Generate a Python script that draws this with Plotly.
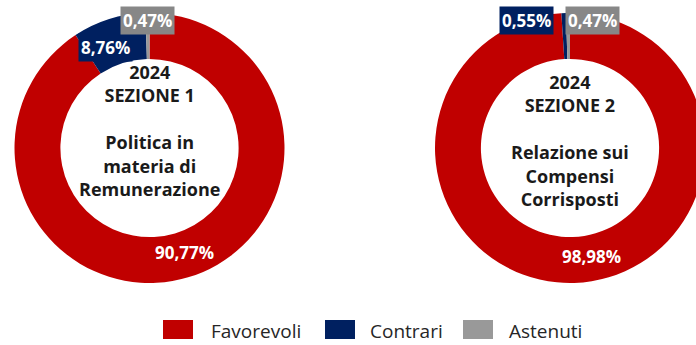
import plotly.graph_objects as go

# ---- data ----
categories = ["Favorevoli", "Contrari", "Astenuti"]
sez1_values = [90.77, 8.76, 0.47]
sez2_values = [98.98, 0.55, 0.47]
colors = ["#C00000", "#002060", "#999999"]
label_box_colors = ["#C00000", "#002060", "#878787"]
sez1_title = "2024<br>SEZIONE 1<br><br>Politica in<br>materia di<br>Remunerazione"
sez2_title = "2024<br>SEZIONE 2<br><br>Relazione sui<br>Compensi<br>Corrisposti"

W, H = 705, 345
FONT = "Open Sans"


def fmt(v):
    return f"{v:.2f}".replace(".", ",") + "%"


def px(x):
    return x / W


def py(y):
    return 1 - y / H


fig = go.Figure()


def add_donut(values, xdom):
    fig.add_trace(go.Pie(
        labels=categories,
        values=values,
        marker=dict(colors=colors, line=dict(width=0)),
        hole=0.66,
        sort=False,
        direction="clockwise",
        rotation=0,
        textinfo="none",
        showlegend=False,
        hoverinfo="label+percent",
        domain=dict(x=xdom, y=[py(283), py(13)]),
    ))


add_donut(sez1_values, [px(14.5), px(284.5)])
add_donut(sez2_values, [px(435), 1.0])

annotations = []
# centre titles
annotations.append(dict(x=px(149.5), y=py(130), text=sez1_title, showarrow=False,
                        xanchor="center", yanchor="middle", align="center",
                        font=dict(family=FONT, size=18, color="#1A1A1A", weight="bold")))
annotations.append(dict(x=px(570), y=py(140), text=sez2_title, showarrow=False,
                        xanchor="center", yanchor="middle", align="center",
                        font=dict(family=FONT, size=18, color="#1A1A1A", weight="bold")))

# big-slice labels (no box)
big_labels = [
    (sez1_values[0], 184, 252),
    (sez2_values[0], 591, 256),
]
for v, x, y in big_labels:
    annotations.append(dict(x=px(x), y=py(y), text=fmt(v), showarrow=False,
                            xanchor="center", yanchor="middle",
                            font=dict(family=FONT, size=17, color="white", weight="bold")))

# small-slice label boxes (text from data)
small_labels = [
    (sez1_values[1], label_box_colors[1], 105, 48),
    (sez1_values[2], label_box_colors[2], 147, 21),
    (sez2_values[1], label_box_colors[1], 526, 21),
    (sez2_values[2], label_box_colors[2], 592, 21),
]
for v, c, x, y in small_labels:
    annotations.append(dict(x=px(x), y=py(y), text=fmt(v), showarrow=False,
                            xanchor="center", yanchor="middle",
                            bgcolor=c, borderpad=2,
                            font=dict(family=FONT, size=17, color="white", weight="bold")))

# custom legend
legend_key_x = [163, 325, 463]
legend_text_x = [209, 368, 507]
shapes = []
for cat, col, kx, tx in zip(categories, colors, legend_key_x, legend_text_x):
    shapes.append(dict(type="rect", xref="paper", yref="paper",
                       x0=px(kx), x1=px(kx + 30), y0=py(339), y1=py(320),
                       fillcolor=col, line=dict(width=0)))
    annotations.append(dict(x=px(tx), y=py(331), text=cat, showarrow=False,
                            xanchor="left", yanchor="middle",
                            font=dict(family=FONT, size=19, color="#262626")))

fig.update_layout(
    width=W, height=H,
    margin=dict(l=0, r=0, t=0, b=0),
    paper_bgcolor="white", plot_bgcolor="white",
    annotations=annotations, shapes=shapes,
    showlegend=False,
)

fig.write_html(
    "out.html",
    post_script="document.documentElement.style.overflow='hidden';document.body.style.overflow='hidden';",
)
